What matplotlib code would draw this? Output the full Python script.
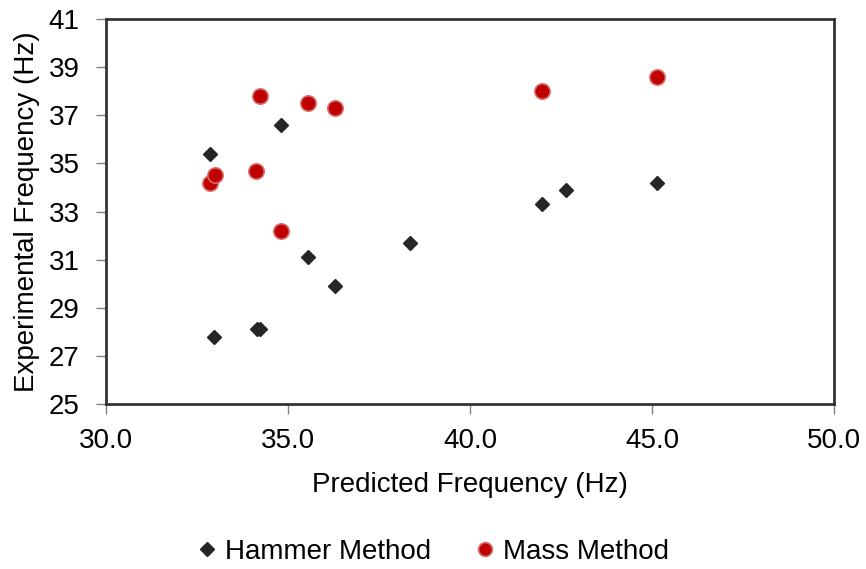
import matplotlib.pyplot as plt

plt.rcParams['font.family'] = ['Liberation Sans', 'DejaVu Sans']

# Hammer method points
hammer_pred = [32.86, 32.97, 34.15, 34.24, 34.81, 35.56, 36.30, 38.36, 41.97, 42.65, 45.13]
hammer_exp = [35.4, 27.8, 28.1, 28.1, 36.6, 31.1, 29.9, 31.7, 33.3, 33.9, 34.2]

# Mass method points
mass_pred = [32.86, 33.00, 34.13, 34.24, 34.81, 35.56, 36.30, 41.97, 45.13]
mass_exp = [34.2, 34.5, 34.7, 37.8, 32.2, 37.5, 37.3, 38.0, 38.6]

xticks = [30, 35, 40, 45, 50]
yticks = [25, 27, 29, 31, 33, 35, 37, 39, 41]

fig = plt.figure(figsize=(8.66, 5.69), dpi=100)
ax = fig.add_axes([106/866, 1 - 404/569, (834-106)/866, (404-19)/569])

ax.plot(hammer_pred, hammer_exp, linestyle='none', marker='D', markersize=7.5,
        color='#262626', label='Hammer Method', zorder=3)
ax.plot(mass_pred, mass_exp, linestyle='none', marker='o', markersize=11,
        markerfacecolor='#c00000', markeredgecolor='#d86a6a', markeredgewidth=1.2,
        label='Mass Method', zorder=3)

ax.set_xlim(30, 50)
ax.set_ylim(25, 41)
ax.set_xticks(xticks)
ax.set_xticklabels(['%.1f' % v for v in xticks])
ax.set_yticks(yticks)

for s in ax.spines.values():
    s.set_color('#333333')
    s.set_linewidth(2)

ax.tick_params(direction='out', length=7, width=1, color='#808080',
               labelsize=20, labelcolor='black')
ax.tick_params(axis='x', pad=10)
ax.tick_params(axis='y', pad=12)

ax.set_xlabel('Predicted Frequency (Hz)', fontsize=20, labelpad=13)
ax.set_ylabel('Experimental Frequency (Hz)', fontsize=20, labelpad=6)

fig.legend(loc='center', bbox_to_anchor=(0.5, 1 - 552/569), ncol=2, frameon=False,
           fontsize=20, handlelength=0.7, handletextpad=0.3, columnspacing=1.6,
           markerscale=0.9)

fig.savefig('out.png', dpi=100)
